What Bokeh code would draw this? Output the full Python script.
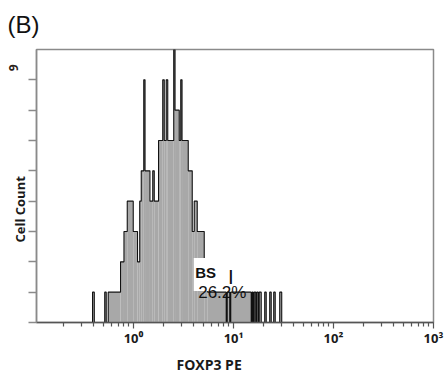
import math
from bokeh.plotting import figure
from bokeh.models import FixedTicker, Label, BoxAnnotation, Range1d, Title
from bokeh.embed import file_html
from bokeh.resources import INLINE

# ---- histogram data (FOXP3 PE bin edges; counts per bin) ----
bin_edges = [0.389, 0.405, 0.515, 0.533, 0.558, 0.741, 0.802, 0.865, 0.993, 1.096,
             1.153, 1.194, 1.265, 1.303, 1.459, 1.556, 1.611, 1.778, 1.959, 2.028,
             2.123, 2.198, 2.523, 2.600, 2.864, 2.965, 3.055, 3.524, 3.864, 4.046,
             4.335, 5.093, 5.521, 8.453, 8.650, 9.162, 9.376, 15.03, 15.38, 15.74,
             16.11, 16.67, 17.06, 17.66, 18.07, 18.92, 20.51, 21.23, 23.01, 23.82,
             25.23, 26.12, 28.97, 30.34]
cell_counts = [1, 0, 1, 0, 1, 2, 3, 4, 3, 2,
               4, 5, 8, 5, 4, 5, 4, 6, 8, 6,
               8, 6, 9, 7, 6, 8, 6, 5, 3, 4,
               3, 2, 1, 0, 1, 0, 1, 0, 1, 0,
               1, 0, 1, 0, 1, 0, 1, 0, 1, 0,
               1, 0, 1]

x_major_ticks = [0.1, 1, 10, 100, 1000]
x_tick_labels = ["", "10\u2070", "10\u00b9", "10\u00b2", "10\u00b3"]
y_ticks = [0, 1, 2, 3, 4, 5, 6, 7, 8]

gate_name = "BS"
gate_pct = "26.2%"
gate_left, gate_right = 4.0, 14.8

p = figure(width=446, height=376, x_axis_type="log",
           x_range=Range1d(0.107, 1000), y_range=Range1d(0, 9),
           output_backend="svg", toolbar_location=None,
           min_border_left=36, min_border_right=13, min_border_top=49, min_border_bottom=53)

p.xgrid.visible = False
p.ygrid.visible = False
p.outline_line_color = "#8a8a8a"
p.outline_line_width = 1.5
p.background_fill_color = "white"
p.border_fill_color = "white"

# filled histogram
p.quad(left=bin_edges[:-1], right=bin_edges[1:], bottom=0, top=cell_counts,
       fill_color="#a8a8a8", line_color=None)
# outline
xs = [bin_edges[0]] + bin_edges
ys = [0] + cell_counts + [0]
p.step(x=xs, y=ys, mode="after", line_color="#111111", line_width=1.1)

# x axis
minor = [m * 10 ** k for k in range(-1, 3) for m in range(2, 10)]
p.xaxis.ticker = FixedTicker(ticks=x_major_ticks, minor_ticks=minor)
p.xaxis.major_label_overrides = {t: lab for t, lab in zip(x_major_ticks, x_tick_labels)}
p.xaxis.major_label_text_font = "Open Sans"
p.xaxis.major_label_text_font_style = "bold"
p.xaxis.major_label_text_font_size = "13px"
p.xaxis.major_label_text_color = "#1a1a1a"
p.xaxis.major_label_standoff = 0
p.xaxis.major_tick_out = 6
p.xaxis.major_tick_in = 0
p.xaxis.minor_tick_out = 4
p.xaxis.minor_tick_in = 0
p.xaxis.axis_line_color = "#555555"
p.xaxis.axis_line_width = 1.3
p.xaxis.major_tick_line_color = "#555555"
p.xaxis.minor_tick_line_color = "#555555"
p.xaxis.major_tick_line_width = 1.2
p.xaxis.minor_tick_line_width = 1.2

# y axis (ticks only; title drawn as a side title)
p.yaxis.ticker = FixedTicker(ticks=y_ticks, minor_ticks=[])
p.yaxis.major_label_overrides = {t: "" for t in y_ticks}
p.yaxis.major_label_standoff = 0
p.yaxis.major_tick_out = 8
p.yaxis.major_tick_in = 0
p.yaxis.axis_line_color = "#8a8a8a"
p.yaxis.axis_line_width = 1.5
p.yaxis.major_tick_line_color = "#8a8a8a"
p.yaxis.major_tick_line_width = 1.5

# gate label box
p.add_layout(BoxAnnotation(left=gate_left, right=gate_right, bottom=1.04, top=2.13,
                           fill_color="white", fill_alpha=1.0, line_color=None))
p.add_layout(Label(x=4.14, y=1.64, text=gate_name, text_font="Liberation Sans",
                   text_font_style="bold", text_font_size="15px", text_color="#111111",
                   text_baseline="alphabetic"))
p.add_layout(Label(x=8.95, y=1.55, text="|", text_font="Liberation Sans",
                   text_font_style="bold", text_font_size="15px", text_color="#111111",
                   text_baseline="alphabetic"))
p.add_layout(Label(x=4.43, y=1.0, text=gate_pct, text_font="Liberation Sans",
                   text_font_size="17px", text_color="#111111",
                   text_baseline="alphabetic"))

# panel tag
p.title.text = "(B)"
p.title.align = "left"
p.title.offset = -29
p.title.vertical_align = "top"
p.title.standoff = 20
p.title.text_font = "Liberation Sans"
p.title.text_font_style = "normal"
p.title.text_font_size = "24px"
p.title.text_color = "#111111"

# x axis title
xt = Title(text="FOXP3 PE", align="left", offset=140, vertical_align="bottom",
           standoff=6, text_font="Open Sans", text_font_style="bold",
           text_font_size="14px", text_color="#1a1a1a")
p.add_layout(xt, "below")

# y axis title
yl = Title(text="Cell Count", align="left", offset=80, vertical_align="bottom",
           standoff=0, text_font="Open Sans", text_font_style="bold",
           text_font_size="13px", text_color="#1a1a1a")
p.add_layout(yl, "left")

# top value on the count axis
yt = Title(text="9", align="right", offset=15, vertical_align="bottom",
           text_font="Open Sans", text_font_style="bold",
           text_font_size="12px", text_color="#2a2218")
try:
    yt.standoff = -18
except Exception:
    yt.standoff = 0
p.add_layout(yt, "left")

open("out.html", "w").write(file_html(p, INLINE))
